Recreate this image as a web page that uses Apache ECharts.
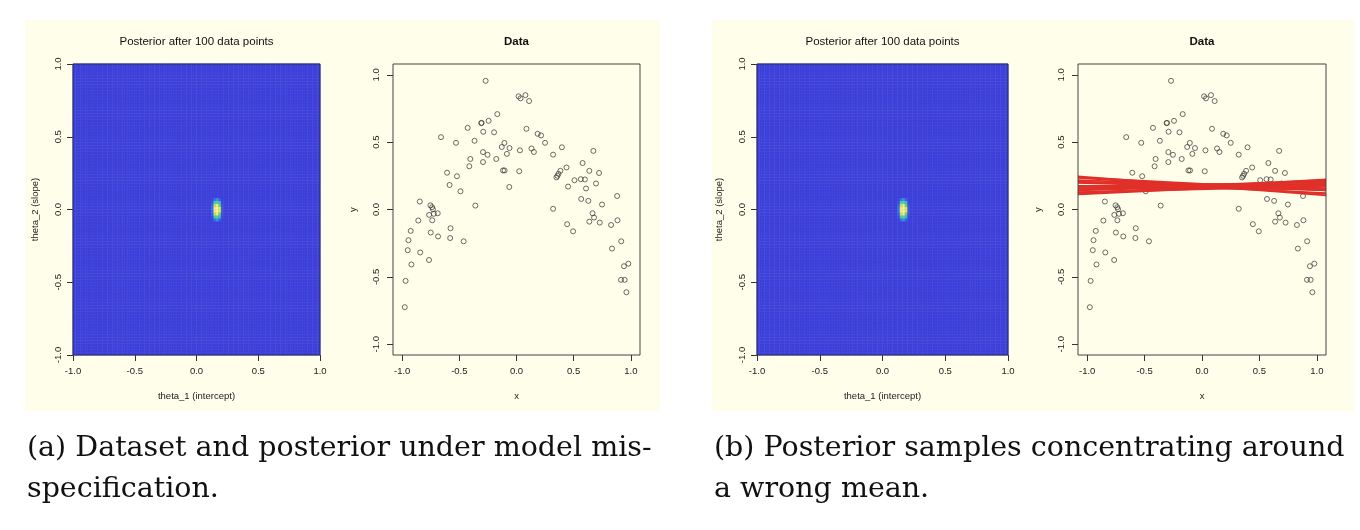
<html>
<head>
<meta charset="utf-8" />
<title></title>
<script type="text/javascript" src="https://cdn.jsdelivr.net/npm/echarts@6/dist/echarts.min.js"></script>
<style>
	html, body { margin: 0; padding: 0; background: #ffffff; }
	#main { width: 1360px; height: 530px; }
</style>
</head>
<body>
<div id="main"></div>
<script type="text/javascript">
// observed data points (same in both panels)
var dataX = [-0.270, 0.018, 0.035, 0.078, 0.110, -0.168, -0.308, -0.305, -0.244, -0.427,
	-0.660, -0.291, -0.196, 0.087, -0.529, -0.367, 0.185, 0.215, 0.250, -0.106,
	-0.129, -0.061, -0.293, -0.253, -0.084, 0.030, 0.131, 0.152, 0.320, 0.397,
	0.672, -0.404, -0.177, -0.293, -0.413, -0.118, -0.104, 0.024, -0.607, -0.521,
	-0.585, -0.490, -0.063, 0.384, 0.367, 0.358, 0.349, 0.437, 0.578, 0.637,
	0.722, 0.451, 0.507, 0.562, 0.598, 0.695, 0.608, 0.566, 0.628, 0.748,
	0.880, 0.320, -0.360, -0.846, -0.753, -0.738, -0.731, -0.764, -0.723, -0.689,
	-0.859, -0.737, -0.577, -0.925, -0.945, -0.750, -0.686, -0.580, -0.462, -0.951,
	-0.842, -0.765, -0.919, -0.970, -0.977, 0.443, 0.495, 0.665, 0.678, 0.637,
	0.728, 0.827, 0.883, 0.916, 0.835, 0.940, 0.978, 0.914, 0.946, 0.961];
var dataY = [0.955, 0.840, 0.825, 0.849, 0.805, 0.708, 0.641, 0.643, 0.658, 0.606,
	0.537, 0.577, 0.573, 0.599, 0.495, 0.510, 0.562, 0.550, 0.495, 0.494,
	0.464, 0.456, 0.426, 0.406, 0.413, 0.439, 0.453, 0.427, 0.407, 0.462,
	0.435, 0.375, 0.375, 0.352, 0.321, 0.290, 0.290, 0.284, 0.273, 0.247,
	0.182, 0.135, 0.167, 0.287, 0.265, 0.250, 0.238, 0.312, 0.345, 0.287,
	0.271, 0.170, 0.217, 0.225, 0.223, 0.193, 0.156, 0.078, 0.064, 0.037,
	0.100, 0.005, 0.029, 0.059, 0.031, 0.017, 0.002, -0.040, -0.032, -0.028,
	-0.082, -0.080, -0.139, -0.159, -0.228, -0.171, -0.200, -0.212, -0.236, -0.302,
	-0.319, -0.375, -0.408, -0.530, -0.725, -0.109, -0.162, -0.028, -0.060, -0.090,
	-0.097, -0.115, -0.080, -0.236, -0.290, -0.421, -0.402, -0.522, -0.522, -0.614];

// posterior samples (intercept, slope) drawn as red lines in panel (b)
var sampleIntercept = [0.175, 0.170, 0.180, 0.160, 0.185, 0.165, 0.190, 0.155, 0.175, 0.170,
	0.180, 0.160, 0.185, 0.165, 0.175, 0.170, 0.180, 0.150, 0.190, 0.165];
var sampleSlope = [-0.065, 0.050, -0.020, 0.030, 0.015, -0.040, -0.045, 0.040, 0.000, -0.025,
	0.035, -0.010, -0.030, 0.020, -0.055, 0.010, 0.025, 0.020, -0.010, 0.045];

// posterior grid 100 x 100 on [-1,1]^2; only the bright spot is non zero
var gridCells = 100;
var blobCols = [56, 57, 58, 59, 60];          // theta_1 = 0.13 .. 0.21
var blobRows = [53, 52, 51, 50, 49, 48, 47, 46]; // theta_2 = 0.07 .. -0.07
var blobValues = [
	[0.00, 0.15, 0.25, 0.10, 0.00],
	[0.04, 0.45, 0.60, 0.35, 0.02],
	[0.10, 0.75, 0.92, 0.60, 0.05],
	[0.15, 0.92, 1.00, 0.80, 0.08],
	[0.15, 0.92, 1.00, 0.80, 0.08],
	[0.10, 0.75, 0.92, 0.60, 0.05],
	[0.04, 0.45, 0.60, 0.35, 0.02],
	[0.00, 0.15, 0.25, 0.10, 0.00]
];

var tickValues = [-1, -0.5, 0, 0.5, 1];
var heatTitle = 'Posterior after 100 data points';
var dataTitle = 'Data';
var captionA = ['(a) Dataset and posterior under model mis-', 'specification.'];
var captionB = ['(b) Posterior samples concentrating around', 'a wrong mean.'];

var SANS = 'Liberation Sans, Arial, Helvetica, sans-serif';
var SERIF = 'DejaVu Serif, serif';
var XLIM = 1.08;

var cats = [];
for (var c = 0; c < gridCells; c++) cats.push(c);
var heatData = [];
var blobMap = {};
for (var r = 0; r < blobRows.length; r++) {
	for (var k = 0; k < blobCols.length; k++) {
		blobMap[blobCols[k] + '_' + blobRows[r]] = blobValues[r][k];
	}
}
for (var i = 0; i < gridCells; i++) {
	for (var j = 0; j < gridCells; j++) {
		var v = blobMap[i + '_' + j] || 0;
		heatData.push([i, j, v]);
	}
}
var points = dataX.map(function (x, n) { return [x, dataY[n]]; });

// panel layout
var panels = [
	{ heatLeft: 73, heatW: 247, scatLeft: 393, scatW: 247, bgLeft: 25, bgW: 635 },
	{ heatLeft: 757, heatW: 251, scatLeft: 1078, scatW: 248, bgLeft: 712, bgW: 642 }
];
var TOP = 64, H = 291;

var grids = [], xAxes = [], yAxes = [], series = [], graphics = [];

function fmt(v) { return v.toFixed(1); }

function valueAxis(dim, gi, min, max, margin) {
	var ax = {
		type: 'value', gridIndex: gi, min: min, max: max,
		splitLine: { show: false },
		axisLine: { show: false, onZero: false },
		axisTick: { show: true, length: 6, customValues: tickValues, lineStyle: { color: '#333', width: 1 } },
		axisLabel: {
			customValues: tickValues, formatter: fmt, color: '#222',
			fontFamily: SANS, fontSize: 9.5, margin: margin
		}
	};
	if (dim === 'y') ax.axisLabel.rotate = 90;
	return ax;
}

panels.forEach(function (p, pi) {
	var g0 = grids.length;
	// heatmap category grid
	grids.push({ left: p.heatLeft, top: TOP, width: p.heatW, height: H, containLabel: false });
	// overlay with value axes and box
	grids.push({ left: p.heatLeft, top: TOP, width: p.heatW, height: H, show: true, z: 5,
		backgroundColor: 'transparent', borderColor: '#2a2a55', borderWidth: 1 });
	// scatter grid
	grids.push({ left: p.scatLeft, top: TOP, width: p.scatW, height: H, show: true, z: 5,
		backgroundColor: 'transparent', borderColor: '#444', borderWidth: 1 });

	xAxes.push({ type: 'category', gridIndex: g0, data: cats, show: false });
	yAxes.push({ type: 'category', gridIndex: g0, data: cats, show: false });
	xAxes.push(valueAxis('x', g0 + 1, -1, 1, 11));
	yAxes.push(valueAxis('y', g0 + 1, -1, 1, 10));
	xAxes.push(valueAxis('x', g0 + 2, -XLIM, XLIM, 11));
	yAxes.push(valueAxis('y', g0 + 2, -XLIM, XLIM, 12));

	series.push({
		type: 'heatmap', xAxisIndex: g0, yAxisIndex: g0, data: heatData,
		progressive: 0, silent: true,
		itemStyle: { borderColor: 'rgba(120,120,240,0.3)', borderWidth: 0.4 },
		emphasis: { disabled: true }
	});
	series.push({
		type: 'scatter', xAxisIndex: g0 + 2, yAxisIndex: g0 + 2, data: points,
		symbol: 'circle', symbolSize: 5, silent: true,
		itemStyle: { color: 'rgba(0,0,0,0)', borderColor: '#333', borderWidth: 0.9 }
	});
	if (pi === 1) {
		sampleIntercept.forEach(function (a, s) {
			var b = sampleSlope[s];
			series.push({
				type: 'line', xAxisIndex: g0 + 2, yAxisIndex: g0 + 2,
				data: [[-XLIM, a - b * XLIM], [XLIM, a + b * XLIM]],
				showSymbol: false, silent: true, z: 4,
				lineStyle: { color: '#e0302a', width: 1.8 }
			});
		});
	}

	var hc = p.heatLeft + p.heatW / 2, sc = p.scatLeft + p.scatW / 2;
	graphics.push({ type: 'rect', z: -10, shape: { x: p.bgLeft, y: 20, width: p.bgW, height: 391 },
		style: { fill: '#fefeea' } });
	graphics.push({ type: 'text', x: hc, y: 42, style: { text: heatTitle, font: '11.5px ' + SANS,
		fill: '#111', align: 'center', verticalAlign: 'middle' } });
	graphics.push({ type: 'text', x: sc, y: 42, style: { text: dataTitle, font: 'bold 11.5px ' + SANS,
		fill: '#111', align: 'center', verticalAlign: 'middle' } });
	graphics.push({ type: 'text', x: hc, y: 396, style: { text: 'theta_1 (intercept)', font: '9.5px ' + SANS,
		fill: '#222', align: 'center', verticalAlign: 'middle' } });
	graphics.push({ type: 'text', x: sc, y: 396, style: { text: 'x', font: '9.5px ' + SANS,
		fill: '#222', align: 'center', verticalAlign: 'middle' } });
	graphics.push({ type: 'text', x: p.heatLeft - 38, y: TOP + H / 2, rotation: Math.PI / 2,
		style: { text: 'theta_2 (slope)', font: '9.5px ' + SANS, fill: '#222', align: 'center', verticalAlign: 'middle' } });
	graphics.push({ type: 'text', x: p.scatLeft - 40, y: TOP + H / 2, rotation: Math.PI / 2,
		style: { text: 'y', font: '9.5px ' + SANS, fill: '#222', align: 'center', verticalAlign: 'middle' } });

	var cap = pi === 0 ? captionA : captionB;
	var capX = pi === 0 ? 27 : 714;
	cap.forEach(function (line, li) {
		graphics.push({ type: 'text', x: capX, y: 449 + li * 41, style: { text: line,
			font: '28.5px ' + SERIF, fill: '#111', align: 'left', verticalAlign: 'middle' } });
	});
});

var chart = echarts.init(document.getElementById('main'));
chart.setOption({
	animation: false,
	backgroundColor: '#ffffff',
	grid: grids,
	xAxis: xAxes,
	yAxis: yAxes,
	visualMap: {
		show: false, type: 'continuous', min: 0, max: 1, seriesIndex: [0, 2],
		inRange: { color: ['#3b3ed8', '#2b84f0', '#2fcde0', '#5fd862', '#e4ee3c', '#fbf79c'] }
	},
	graphic: { elements: graphics },
	series: series
});
</script>
</body>
</html>
